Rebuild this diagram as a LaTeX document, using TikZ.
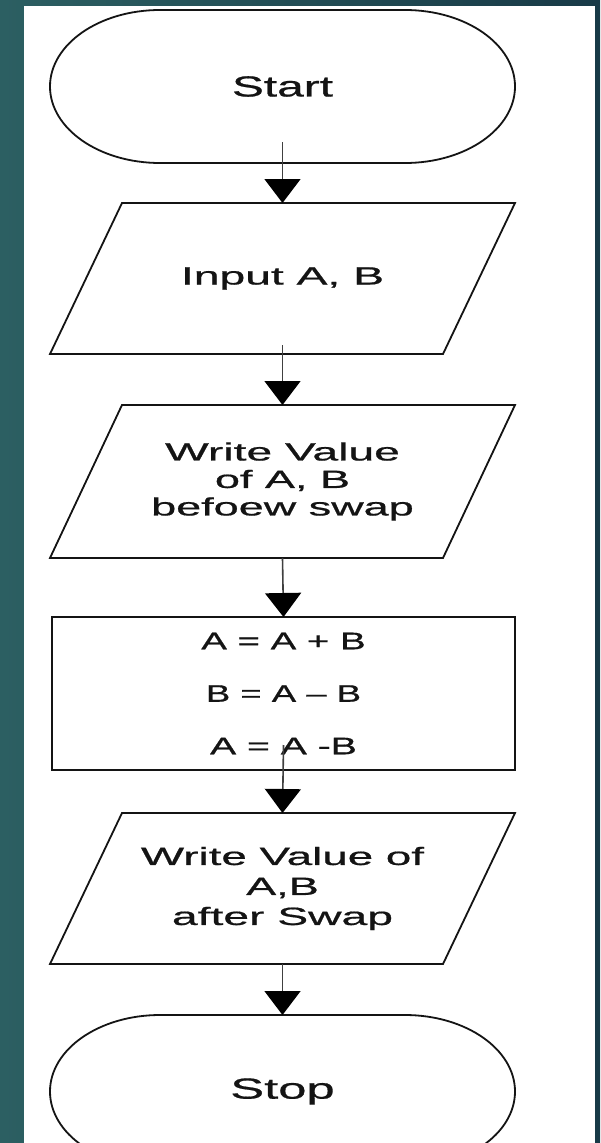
\documentclass[tikz,border=0pt]{standalone}
\usepackage{fontspec}
\setmainfont{Liberation Sans}[FakeBold=0.6]
\usetikzlibrary{arrows.meta}
\definecolor{bgleft}{HTML}{2C5F62}
\definecolor{bgright}{HTML}{183A47}
\definecolor{ink}{HTML}{141414}
% horizontally widened lettering
\newcommand{\wide}[2]{\scalebox{#1}[1]{#2}}

\begin{document}
\begin{tikzpicture}[x=1pt,y=1pt,
  box/.style={draw=none, inner sep=0pt, outer sep=0pt, minimum width=465pt,
    text=ink, align=center, font=\fontsize{25}{27.5}\selectfont},
  outline/.style={draw=ink, line width=1.8pt, line join=miter},
  flow/.style={draw=black!75, line width=1.6pt,
    -{Triangle[length=24pt,width=36pt,color=black]}},
]
\clip (0,0) rectangle (600,-1143);
% slide background and white page
\shade[left color=bgleft, right color=bgright] (0,0) rectangle (600,-1143);
\fill[white] (24,-6) rectangle (595,-1143);

% nodes
\node[box, minimum height=153pt, font=\fontsize{29}{32}\selectfont] (start) at (282.5,-86.5) {\wide{1.65}{Start}};
\node[box, minimum height=151pt] (inp) at (282.5,-278.5) {\raisebox{-3pt}{\wide{1.85}{Input A, B}}};
\node[box, minimum height=153pt] (before) at (282.5,-481.5)
  {\wide{1.85}{Write  Value}\\ \wide{1.8}{of A, B}\\ \wide{1.8}{befoew swap}};
\node[box, minimum width=463pt, minimum height=153pt, font=\fontsize{24}{27.5}\selectfont] (calc) at (283.5,-693.5)
  {\wide{1.6}{A = A + B}\\[25pt] \wide{1.52}{B = A -- B}\\[25pt] \wide{1.63}{A = A -B}};
\node[box, minimum height=151pt, font=\fontsize{25}{30}\selectfont] (after) at (282.5,-888.5)
  {\wide{1.83}{Write Value of}\\ \wide{1.8}{A,B}\\ \wide{1.85}{after  Swap}};
\node[box, minimum height=153pt, font=\fontsize{29}{32}\selectfont] (stop) at (282.5,-1091.5) {\wide{1.75}{Stop}};

% terminal outlines
\foreach \t in {start,stop}{
  \draw[outline] ([xshift=110pt]\t.north west) -- ([xshift=-110pt]\t.north east)
    arc[start angle=90, end angle=-90, x radius=110pt, y radius=76.5pt]
    -- ([xshift=110pt]\t.south west)
    arc[start angle=270, end angle=90, x radius=110pt, y radius=76.5pt] -- cycle;
}
% input/output outlines
\foreach \p in {inp,before,after}{
  \draw[outline] ([xshift=72pt]\p.north west) -- (\p.north east)
    -- ([xshift=-72pt]\p.south east) -- (\p.south west) -- cycle;
}
% process outline
\draw[outline] (calc.north west) rectangle (calc.south east);

% connectors
\draw[flow] ([yshift=21pt]start.south) -- (inp.north);
\draw[flow] ([yshift=9pt]inp.south) -- (before.north);
\draw[flow] (before.south) -- (calc.north);
\draw[flow] ([yshift=25pt]calc.south) -- (after.north);
\draw[flow] (after.south) -- (stop.north);
\end{tikzpicture}
\end{document}
